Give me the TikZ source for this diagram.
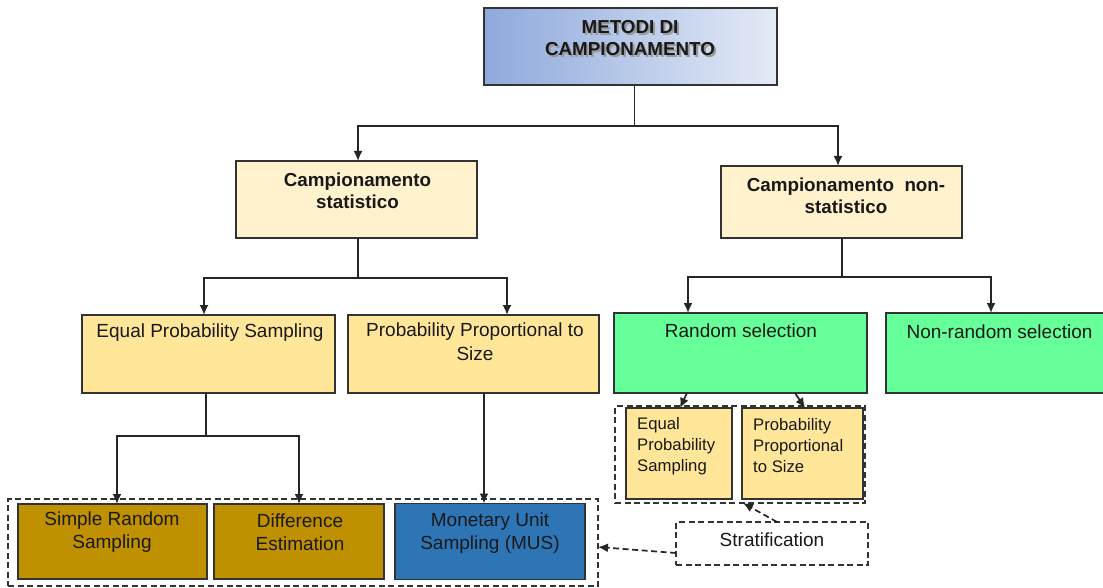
\documentclass[tikz,border=0pt]{standalone}
\usepackage{fontspec}
\setmainfont{Liberation Sans}
\usetikzlibrary{arrows.meta}
\definecolor{titleL}{HTML}{8EA9DB}
\definecolor{titleR}{HTML}{E4EBF7}
\definecolor{cream}{HTML}{FFF2CC}
\definecolor{sand}{HTML}{FFE699}
\definecolor{mint}{HTML}{66FF99}
\definecolor{gold}{HTML}{BF9000}
\definecolor{steel}{HTML}{2E75B6}
\definecolor{edge}{HTML}{333333}
\tikzset{
  box/.style={draw=edge, line width=1.7pt, inner sep=0pt, outer sep=0pt},
  sz/.style 2 args={minimum width=#1pt, minimum height=#2pt},
  dbox/.style={draw=edge, line width=1.5pt, dash pattern=on 6pt off 3.5pt, inner sep=0pt, outer sep=0pt},
  conn/.style={draw=black!85, line width=1.7pt, -{Latex[length=10pt,width=9pt]}},
  dconn/.style={conn, dash pattern=on 6pt off 3.5pt},
  lbl/.style={font=\fontsize{19}{23.5}\selectfont, align=center, inner sep=0pt, text=black!90},
  blbl/.style={font=\fontsize{18.8}{22}\selectfont\bfseries, align=center, inner sep=0pt, text=black!90},
  slbl/.style={font=\fontsize{16.7}{21}\selectfont, align=left, inner sep=0pt, anchor=west, text=black!90},
}
\begin{document}
\begin{tikzpicture}[x=1pt,y=-1pt]
\useasboundingbox (0,0) rectangle (1103,588);
\clip (0,0) rectangle (1103,588);
\fill[white] (0,0) rectangle (1103,588);

% boxes
\node[box, sz={293}{77}, left color=titleL, right color=titleR] (top) at (630.5,46.5) {};
\node[box, sz={241}{77}, fill=cream] (stat) at (356.5,199.5) {};
\node[box, sz={241}{72}, fill=cream] (nonstat) at (841.5,202) {};
\node[box, sz={253}{78}, fill=sand] (eps) at (208.5,354) {};
\node[box, sz={251}{78}, fill=sand] (pps) at (473.5,354) {};
\node[box, sz={253}{80}, fill=mint] (rs) at (740.5,353) {};
\node[box, sz={227}{80}, fill=mint] (nrs) at (999.5,353) {};
\node[dbox, sz={590}{87}] (bdash) at (303,542.5) {};
\node[box, sz={189}{75}, fill=gold] (srs) at (112.5,541.5) {};
\node[box, sz={170}{75}, fill=gold] (de) at (299,541.5) {};
\node[box, sz={190}{76}, fill=steel] (mus) at (490,541.5) {};
\node[dbox, sz={250}{97}] (sdash) at (740,454.5) {};
\node[box, sz={106}{91}, fill=sand] (seps) at (679,453.5) {};
\node[box, sz={121}{91}, fill=sand] (spps) at (802.5,453.5) {};
\node[dbox, sz={192}{43}] (strat) at (772,543.5) {};

% labels
\node[blbl, text=black!40] (titleshadow) at (632,40) {METODI DI\\CAMPIONAMENTO};
\node[blbl] (title) at (630,38) {METODI DI\\CAMPIONAMENTO};
\node[blbl] (statl) at (357.5,191) {Campionamento\\statistico};
\node[blbl] (nonstatl) at (846,196) {Campionamento\ \ non-\\statistico};
\node[lbl] (epsl) at (210,333) {Equal Probability Sampling};
\node[lbl] (ppsl) at (475,341.5) {Probability Proportional to\\Size};
\node[lbl] (rsl) at (741,331) {Random selection};
\node[lbl] (nrsl) at (999.5,332) {Non-random selection};
\node[lbl] (srsl) at (112,532) {Simple Random\\Sampling};
\node[lbl] (del) at (300,532) {Difference\\Estimation};
\node[lbl] (musl) at (490,533) {Monetary Unit\\Sampling (MUS)};
\node[slbl] (sepsl) at (637,446) {Equal\\Probability\\Sampling};
\node[slbl] (sppsl) at (753,446) {Probability\\Proportional\\to Size};
\node[lbl] (stratl) at (772,540) {Stratification};

% connectors
\draw[conn] ([xshift=4pt]top.south) -- ++(0,41) -| ([xshift=1.5pt]stat.north);
\draw[conn] ([xshift=4pt]top.south) -- ++(0,41) -| ([xshift=-3.5pt]nonstat.north);
\draw[conn] ([xshift=1.5pt]stat.south) -- ++(0,40) -| ([xshift=-4.5pt]eps.north);
\draw[conn] ([xshift=1.5pt]stat.south) -- ++(0,40) -| ([xshift=33.5pt]pps.north);
\draw[conn] ([xshift=0.5pt]nonstat.south) -- ++(0,39) -| ([xshift=-52.5pt]rs.north);
\draw[conn] ([xshift=0.5pt]nonstat.south) -- ++(0,39) -| ([xshift=-8.5pt]nrs.north);
\draw[conn] ([xshift=-2.5pt]eps.south) -- ++(0,43) -| ([xshift=4.5pt]srs.north);
\draw[conn] ([xshift=-2.5pt]eps.south) -- ++(0,43) -| (de.north);
\draw[conn] ([xshift=10.5pt]pps.south) -- ([xshift=-6pt]mus.north);
\draw[conn] ([xshift=-53.5pt]rs.south) -- ([xshift=1pt]seps.north);
\draw[conn] ([xshift=54.5pt]rs.south) -- ([xshift=2.5pt]spps.north);
\draw[dconn] ([xshift=5pt]strat.north) -- ([xshift=3pt]sdash.south);
\draw[dconn] ([yshift=-9.5pt]strat.west) -- ([yshift=-4.5pt]bdash.east);
\end{tikzpicture}
\end{document}
